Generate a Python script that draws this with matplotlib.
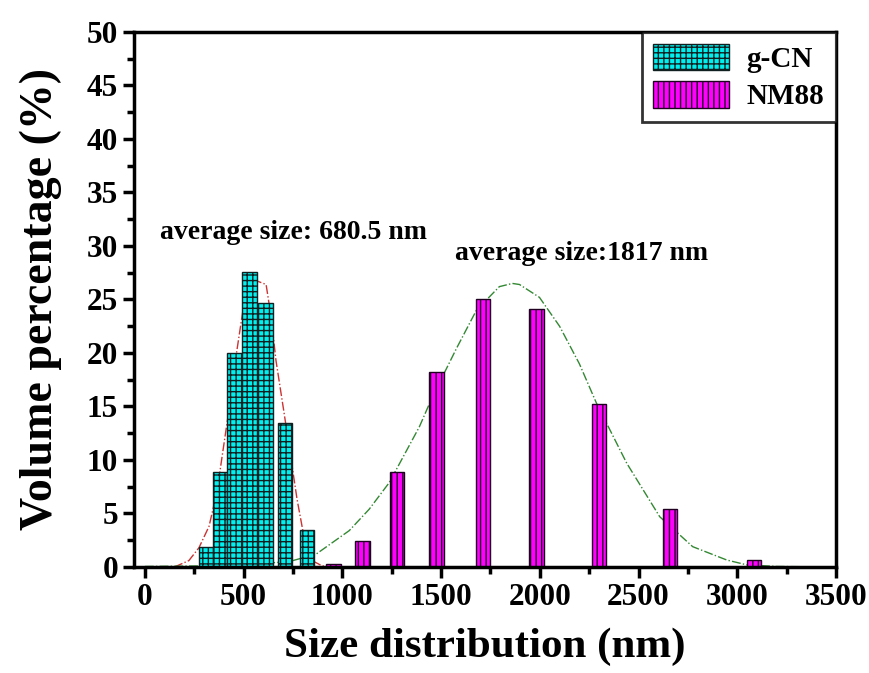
import numpy as np
import matplotlib
matplotlib.use('Agg')
import matplotlib.pyplot as plt
from matplotlib.ticker import MultipleLocator

# g-CN bins (nm) and volume percentage
gcn_size = [309, 380, 454, 530, 611, 710, 822]
gcn_vol = [1.9, 8.9, 20.0, 27.6, 24.7, 13.5, 3.5]

# NM88 bins (nm) and volume percentage
nm_size = [956, 1103, 1276, 1478, 1712, 1983, 2300, 2660, 3084]
nm_vol = [0.3, 2.4, 8.9, 18.2, 25.0, 24.1, 15.2, 5.4, 0.7]

# fitted curves
gcn_fit_x = [0, 150, 223, 274, 325, 365, 391, 426, 451, 492, 517, 558, 614, 639,
             664, 705, 741, 771, 806, 857, 898, 1000, 3500]
gcn_fit_y = [0, 0, 0.6, 1.8, 3.8, 7.0, 10.3, 14.7, 18.4, 23.4, 26.6, 26.8, 26.4,
             23.4, 19.3, 14.4, 10.0, 6.3, 2.8, 0.5, 0.1, 0, 0]
nm_fit_x = [0, 300, 527, 730, 867, 1035, 1136, 1238, 1390, 1456, 1580, 1679, 1795,
            1861, 1897, 1998, 2100, 2200, 2287, 2440, 2607, 2774, 2947, 3048, 3200, 3500]
nm_fit_y = [0.05, 0.1, 0.25, 0.5, 1.2, 3.4, 5.4, 7.9, 13.1, 15.9, 20.5, 24.0, 26.2,
            26.5, 26.4, 25.2, 22.5, 19.0, 15.3, 9.7, 4.7, 1.9, 0.65, 0.2, 0.05, 0]

plt.rcParams['font.family'] = ['Liberation Serif', 'DejaVu Serif']
plt.rcParams['font.weight'] = 'bold'
plt.rcParams['hatch.linewidth'] = 1.0
plt.rcParams['hatch.color'] = '#103030'

fig = plt.figure(figsize=(8.7, 6.73), dpi=100)
ax = fig.add_axes([0.154, 0.1575, 0.807, 0.795])

ax.plot(gcn_fit_x, gcn_fit_y, color='#cc3333', linestyle='-.', linewidth=1.0, zorder=1)
ax.plot(nm_fit_x, nm_fit_y, color='#338833', linestyle='-.', linewidth=1.0, zorder=1)

ax.bar(gcn_size, gcn_vol, width=72, color='#00f0f0', edgecolor='#102020',
       hatch='+++', linewidth=1.0, label='g-CN', zorder=2)
ax.bar(nm_size, nm_vol, width=74, color='#ff00ff', edgecolor='#200020',
       hatch='|||', linewidth=1.0, label='NM88', zorder=2)

ax.set_xlim(-55, 3500)
ax.set_ylim(0, 50)
ax.xaxis.set_major_locator(MultipleLocator(500))
ax.xaxis.set_minor_locator(MultipleLocator(250))
ax.yaxis.set_major_locator(MultipleLocator(5))
ax.yaxis.set_minor_locator(MultipleLocator(2.5))
ax.tick_params(which='major', direction='out', length=8, width=2.5, labelsize=22.5)
ax.tick_params(which='minor', direction='out', length=5, width=2.5)
for s in ax.spines.values():
    s.set_linewidth(2.5)

ax.set_xlabel('Size distribution (nm)', fontsize=31, fontweight='bold', labelpad=11)
ax.set_ylabel('Volume percentage (%)', fontsize=33, fontweight='bold', labelpad=18)

ax.text(76, 31.3, 'average size: 680.5 nm', fontsize=20, fontweight='bold', va='center')
ax.text(1570, 29.3, 'average size:1817 nm', fontsize=20, fontweight='bold', va='center')

leg = ax.legend(loc='upper right', bbox_to_anchor=(1.0, 1.0), borderaxespad=0,
                fancybox=False, edgecolor='black', handlelength=2.6,
                handleheight=1.0, handletextpad=0.6, borderpad=0.4, labelspacing=0.3,
                prop={'weight': 'bold', 'size': 21})
leg.get_frame().set_linewidth(2)

fig.savefig('out.png', dpi=100)
